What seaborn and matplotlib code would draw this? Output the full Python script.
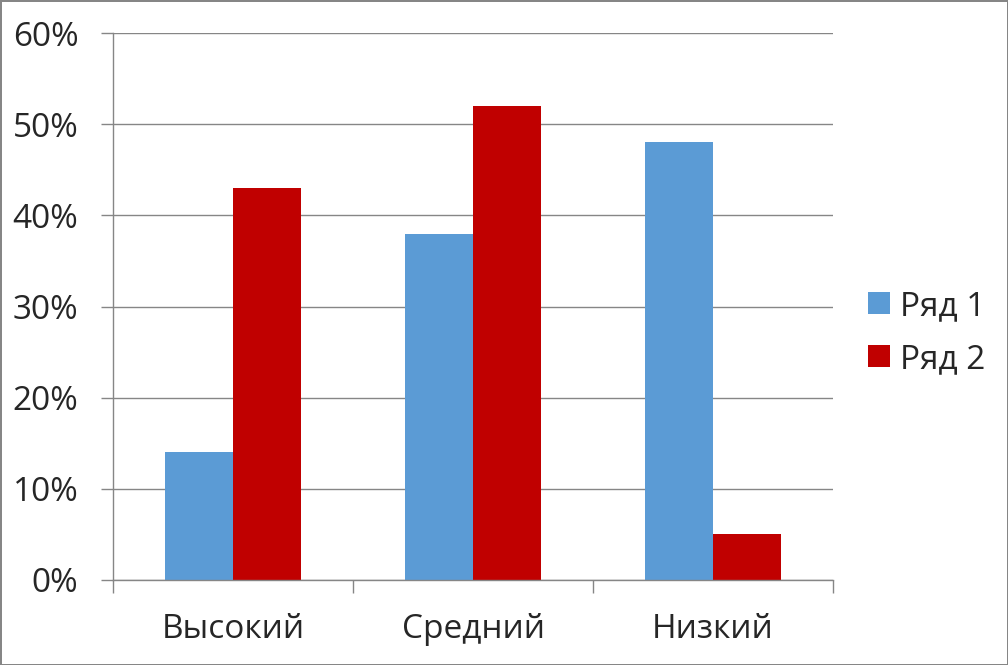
import pandas as pd
import matplotlib.pyplot as plt
import matplotlib.ticker as mticker
import seaborn as sns

# --- data ---
categories = ['Высокий', 'Средний', 'Низкий']
series_names = ['Ряд 1', 'Ряд 2']
row1 = [14, 38, 48]
row2 = [43, 52, 5]
colors = ['#5B9BD5', '#C00000']

df = pd.DataFrame({
    'category': categories * 2,
    'series': [series_names[0]] * 3 + [series_names[1]] * 3,
    'value': row1 + row2,
})

sns.set_style('white')
plt.rcParams['font.family'] = ['Open Sans', 'DejaVu Sans']

fig = plt.figure(figsize=(10.08, 6.65), dpi=100)
fig.patch.set_edgecolor('#868686')
fig.patch.set_linewidth(2)
ax = fig.add_axes([113 / 1008, 1 - 580 / 665, 720 / 1008, 547 / 665])

sns.barplot(data=df, x='category', y='value', hue='series',
            palette=colors, width=0.57, saturation=1, linewidth=0, ax=ax)

grey = '#868686'
ax.set_ylim(0, 60)
ax.set_xlim(-0.5, 2.5)
ax.yaxis.set_major_locator(mticker.MultipleLocator(10))
ax.yaxis.set_major_formatter(mticker.FuncFormatter(lambda v, p: f'{v:.0f}%'))
ax.grid(axis='y', color=grey, linewidth=1)
ax.set_axisbelow(True)

for s in ['top', 'right']:
    ax.spines[s].set_visible(False)
for s in ['left', 'bottom']:
    ax.spines[s].set_color(grey)
    ax.spines[s].set_linewidth(1)

ax.tick_params(axis='y', length=9, color=grey, width=1, pad=16,
               labelsize=24, left=True)
ax.tick_params(axis='x', which='major', length=0, pad=24, labelsize=24)
ax.set_xticks([-0.5, 0.5, 1.5, 2.5], minor=True)
ax.tick_params(axis='x', which='minor', length=9, color=grey, width=1,
               bottom=True)
ax.set_xlabel('')
ax.set_ylabel('')

leg = ax.legend(loc='center left', bbox_to_anchor=(1.0, 0.452), frameon=False,
                fontsize=24, handlelength=0.65, handleheight=0.65,
                handletextpad=0.3, labelspacing=0.6, borderaxespad=0.65)

plt.savefig('out.png', dpi=100)
